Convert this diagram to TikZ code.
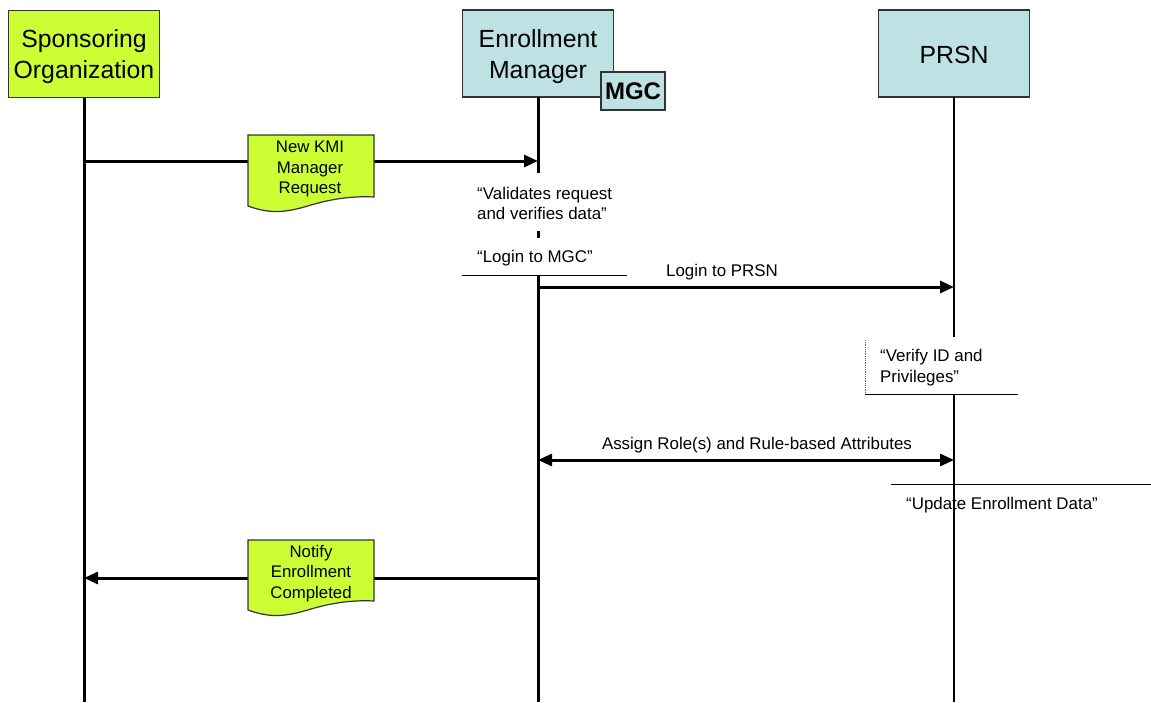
\documentclass[tikz,border=0pt]{standalone}
\usepackage{fontspec}
\setmainfont{Liberation Sans}
\usetikzlibrary{arrows.meta}
\definecolor{lime}{HTML}{CCFF33}
\definecolor{paleblue}{HTML}{BEE1E4}
\definecolor{edge}{HTML}{333333}

\begin{document}
\begin{tikzpicture}[x=1pt,y=-1pt,
  actor/.style={draw=edge, line width=1.2pt, minimum width=151pt, minimum height=87pt,
    inner sep=0pt},
  actortext/.style={align=center, inner sep=0pt, font=\fontsize{24.8}{31}\selectfont},
  tag/.style={draw=edge, line width=1.2pt, fill=paleblue, minimum width=64pt,
    minimum height=38pt, inner sep=0pt, font=\fontsize{24}{26}\selectfont\bfseries},
  life/.style={line width=3pt},
  thinlife/.style={line width=1.1pt},
  msg/.style={line width=3pt, -{Triangle[length=14pt,width=12pt]}},
  twoway/.style={line width=3pt, {Triangle[length=14pt,width=12pt]}-{Triangle[length=14pt,width=12pt]}},
  doc/.style={draw=edge, line width=1.2pt, fill=lime},
  doctext/.style={align=center, inner sep=0pt, font=\fontsize{16.8}{20.5}\selectfont},
  note/.style={align=left, inner sep=0pt, font=\fontsize{16.9}{20.5}\selectfont},
  rule/.style={line width=0.8pt},
  dotrule/.style={line width=0.8pt, densely dotted, draw=black!60}]

\useasboundingbox (0,0) rectangle (1151,702);

% participants
\node[actor, fill=lime] (spon) at (84,54) {};
\node[actortext] (sponText) at (84,57) {Sponsoring\\Organization};
\node[actor, fill=paleblue] (em) at (538,53.5) {};
\node[actortext] (emText) at (538,57) {Enrollment\\Manager};
\node[actor, fill=paleblue] (prsn) at (954,53.5) {};
\node[actortext] (prsnText) at (954,54.5) {PRSN};
\node[tag] (mgc) at (633,91) {MGC};

% lifeline end points
\coordinate (sponEnd) at (84,702);
\coordinate (emTop) at (538,97);
\coordinate (emA) at (538,173);
\coordinate (emB1) at (538,231);
\coordinate (emB2) at (538,238);
\coordinate (emC) at (538,276);
\coordinate (emEnd) at (538,702);
\coordinate (prsnTop) at (954,97);
\coordinate (prsnA) at (954,337);
\coordinate (prsnB) at (954,394);
\coordinate (prsnEnd) at (954,702);

% lifelines
\draw[life] (spon.south) -- (sponEnd);
\draw[life] (emTop) -- (emA);
\draw[life] (emB1) -- (emB2);
\draw[life] (emC) -- (emEnd);
\draw[thinlife] (prsnTop) -- (prsnA);
\draw[thinlife] (prsnB) -- (prsnEnd);

% message anchors on the lifelines
\coordinate (m1s) at (84,161);
\coordinate (m1e) at (538,161);
\coordinate (m2s) at (538,287);
\coordinate (m2e) at (954,287);
\coordinate (m3s) at (538,460);
\coordinate (m3e) at (954,460);
\coordinate (m4s) at (538,578);
\coordinate (m4e) at (84,578);

% messages
\draw[msg] (m1s) -- (m1e);
\draw[msg] (m2s) -- (m2e);
\draw[twoway] (m3s) -- (m3e);
\draw[msg] (m4s) -- (m4e);

% document shapes carried by the messages
\draw[doc] (248,135) -- (374,135) -- (374,197)
  .. controls (355,196) and (335,198) .. (311,205)
  .. controls (285,213) and (270,214) .. (248,206) -- cycle;
\node[doctext] (req) at (310,169) {New KMI\\Manager\\Request};

\draw[doc] (248,540) -- (374,540) -- (374,601)
  .. controls (355,600) and (335,602) .. (311,609)
  .. controls (285,617) and (270,618) .. (248,610) -- cycle;
\node[doctext] (notify) at (311,573.5) {Notify\\Enrollment\\Completed};

% message labels
\node[note] (lblLogin) at (722,272) {Login to PRSN};
\node[note] (lblAssign) at (757,445) {Assign Role(s) and Rule-based Attributes};

% activity notes
\node[note, anchor=west] (validates) at (477,203.5) {“Validates request\\and verifies data”};
\node[note, anchor=west] (loginMGC) at (477,258.5) {“Login to MGC”};
\coordinate (lmA) at (462,275);
\coordinate (lmB) at (627,275);
\draw[rule] (lmA) -- (lmB);

\node[note, anchor=west] (verify) at (880,367.5) {“Verify ID and\\Privileges”};
\coordinate (vA) at (865,340);
\coordinate (vB) at (865,394);
\coordinate (vC) at (1018,394);
\draw[dotrule] (vA) -- (vB);
\draw[rule] (vB) -- (vC);

\coordinate (uA) at (891,484);
\coordinate (uB) at (1151,484);
\draw[rule] (uA) -- (uB);
\node[note] (update) at (1002,505.5) {“Update Enrollment Data”};

\end{tikzpicture}
\end{document}
